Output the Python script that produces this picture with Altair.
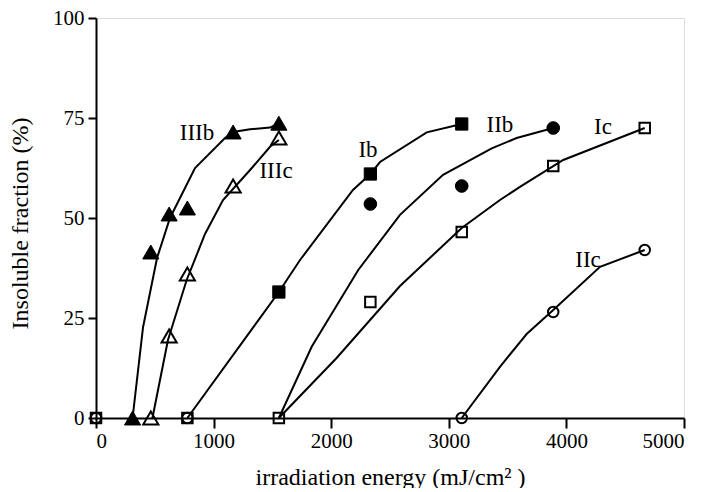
import altair as alt
import pandas as pd

# ---- measured points (markers) ----
IIIb_x = [311, 466, 622, 777, 1166, 1555]
IIIb_y = [0, 41.5, 51, 52.5, 71.5, 73.7]
IIIc_x = [466, 622, 777, 1166, 1555]
IIIc_y = [0, 20.5, 36, 58, 70]
Ib_x = [1555, 2333, 3110]
Ib_y = [31.5, 61, 73.5]
IIb_x = [2333, 3110, 3888]
IIb_y = [53.5, 58, 72.5]
Ic_x = [0, 777, 1555, 2333, 3110, 3888, 4666]
Ic_y = [0, 0, 0, 29, 46.5, 63, 72.5]
IIc_x = [0, 777, 3110, 3888, 4666]
IIc_y = [0, 0, 0, 26.5, 42]

# ---- fitted curves ----
IIIb_fit_x = [311, 400, 519, 629, 842, 1097, 1166, 1310, 1480, 1555]
IIIb_fit_y = [0, 22.7, 40, 50, 62.5, 70, 71.5, 72.2, 72.6, 73.7]
IIIc_fit_x = [480, 612, 771, 927, 1080, 1310, 1480, 1555]
IIIc_fit_y = [0, 19.5, 34.5, 46, 54.5, 62, 67.8, 69.5]
Ib_fit_x = [777, 1555, 1735, 2185, 2333, 2415, 2812, 3110]
Ib_fit_y = [0, 31.5, 39.5, 57, 61, 64, 71.4, 73.5]
IIb_fit_x = [1555, 1834, 2230, 2585, 2951, 3365, 3577, 3888]
IIb_fit_y = [0, 17.8, 37, 50.8, 60.8, 67.4, 70, 72.5]
Ic_fit_x = [1555, 2046, 2585, 3110, 3435, 3605, 3973, 4666]
Ic_fit_y = [0, 15, 33, 47.5, 54.5, 57.8, 64.5, 72.5]
IIc_fit_x = [3110, 3435, 3662, 3888, 4286, 4666]
IIc_fit_y = [0, 12.8, 21, 27, 37.8, 42]

# ---- series labels ----
label_text = ["IIIb", "IIIc", "Ib", "IIb", "Ic", "IIc"]
label_x = [859, 1531, 2313, 3435, 4311, 4184]
label_y = [71.3, 61.8, 67, 73.2, 72.7, 39.5]

FONT = "Liberation Serif, Times New Roman, serif"

fits = {
    "IIIb": (IIIb_fit_x, IIIb_fit_y),
    "IIIc": (IIIc_fit_x, IIIc_fit_y),
    "Ib": (Ib_fit_x, Ib_fit_y),
    "IIb": (IIb_fit_x, IIb_fit_y),
    "Ic": (Ic_fit_x, Ic_fit_y),
    "IIc": (IIc_fit_x, IIc_fit_y),
}
rows = []
for name, (xs, ys) in fits.items():
    for i, (xv, yv) in enumerate(zip(xs, ys)):
        rows.append({"series": name, "i": i, "x": xv, "y": yv})
fit_df = pd.DataFrame(rows)

xscale = alt.Scale(domain=[0, 5000], nice=False)
yscale = alt.Scale(domain=[0, 100], nice=False)

x_axis = alt.Axis(values=[0, 1000, 2000, 3000, 4000, 5000], format="d",
                  title="irradiation energy (mJ/cm\u00b2 )", titleY=66,
                  titleBaseline="alphabetic", titleFontSize=24,
                  titleFont=FONT, titleFontWeight="normal", labelFont=FONT,
                  labelFontSize=21, tickSize=10, labelPadding=2,
                  domainColor="black", domainWidth=2, tickColor="black",
                  tickWidth=2, labelColor="black", titleColor="black", grid=False)
y_axis = alt.Axis(values=[0, 25, 50, 75, 100], format="d",
                  title="Insoluble fraction (%)", titleX=-76, titleY=205,
                  titleBaseline="middle", titleAngle=-90, titleFontSize=24,
                  titleFont=FONT, titleFontWeight="normal", labelFont=FONT,
                  labelFontSize=21, tickSize=8, labelPadding=4,
                  domainColor="black", domainWidth=2, tickColor="black",
                  tickWidth=2, labelColor="black", titleColor="black", grid=False)


def xe():
    return alt.X("x:Q", scale=xscale, axis=x_axis)


def ye():
    return alt.Y("y:Q", scale=yscale, axis=y_axis)


lines = alt.Chart(fit_df).mark_line(color="black", strokeWidth=2).encode(
    x=xe(), y=ye(), detail="series:N", order="i:Q"
)


def markers(xs, ys, shape, filled, size):
    df = pd.DataFrame({"x": xs, "y": ys})
    if filled:
        mk = alt.Chart(df).mark_point(shape=shape, filled=True, color="black",
                                      stroke="black", strokeWidth=1, size=size, opacity=1)
    else:
        mk = alt.Chart(df).mark_point(shape=shape, filled=False, color="black",
                                      strokeWidth=2, size=size, opacity=1)
    return mk.encode(x=xe(), y=ye())


layers = [
    lines,
    markers(IIIb_x, IIIb_y, "triangle-up", True, 260),
    markers(IIIc_x, IIIc_y, "triangle-up", False, 230),
    markers(Ib_x, Ib_y, "square", True, 150),
    markers(IIb_x, IIb_y, "circle", True, 160),
    markers(Ic_x, Ic_y, "square", False, 110),
    markers(IIc_x, IIc_y, "circle", False, 110),
]

lab_df = pd.DataFrame({"t": label_text, "x": label_x, "y": label_y})
labels = alt.Chart(lab_df).mark_text(font=FONT, fontSize=23, color="black",
                                     align="center", baseline="middle").encode(
    x=xe(), y=ye(), text="t:N"
)
layers.append(labels)

chart = alt.layer(*layers).properties(
    width=588, height=400,
    autosize=alt.AutoSizeParams(type="none"),
    padding={"left": 88, "top": 10, "right": 10, "bottom": 70},
).configure_view(stroke=None).configure(
    font=FONT
).configure_axis(
    grid=False, labelFont=FONT, titleFont=FONT,
)

chart.save("out.html", embed_options={"renderer": "svg", "actions": False})
